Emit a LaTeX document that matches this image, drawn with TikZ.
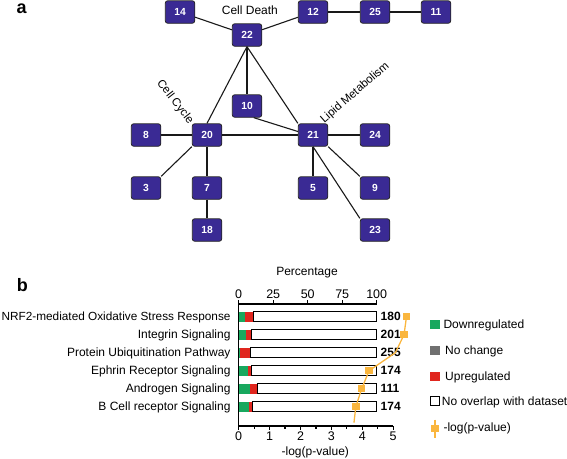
\documentclass[tikz,border=0pt]{standalone}
\usepackage{fontspec}
\setmainfont{Liberation Sans}
\definecolor{nodeblue}{RGB}{58,42,148}
\definecolor{dgreen}{RGB}{24,168,94}
\definecolor{dred}{RGB}{224,38,30}
\definecolor{dgray}{RGB}{112,112,112}
\definecolor{orng}{RGB}{250,182,62}
\begin{document}
\begin{tikzpicture}[x=1pt,y=-1pt,
  nd/.style={draw=black!85, line width=0.8pt, fill=nodeblue, rounded corners=2.5pt,
    minimum width=29.5pt, minimum height=22.5pt, inner sep=0pt, text=white,
    font=\fontsize{10.3}{11}\selectfont\bfseries},
  ln/.style={line width=1.1pt, black!90},
  txt/.style={inner sep=0pt, font=\fontsize{12}{14}\selectfont},
  rtxt/.style={inner sep=0pt, font=\fontsize{11.5}{13}\selectfont},
  vtxt/.style={inner sep=0pt, font=\fontsize{12}{14}\selectfont\bfseries},
  panel/.style={inner sep=0pt, font=\fontsize{18}{20}\selectfont\bfseries},
  axis/.style={line width=1.2pt, black},
  olin/.style={line width=1.3pt, orng},
  omark/.style={fill=orng, draw=none, minimum size=7.5pt, inner sep=0pt}
]
\useasboundingbox (0,0) rectangle (567,458);

% ---------------- panel a ----------------
\node[panel, anchor=base west] (pa) at (16.3,13.3) {a};
\node[nd] (n14) at (180,12) {14};
\node[nd] (n22) at (247,35) {22};
\node[nd] (n12) at (313,12) {12};
\node[nd] (n25) at (375,12) {25};
\node[nd] (n11) at (436,12) {11};
\node[nd] (n10) at (247,106) {10};
\node[nd] (n8)  at (146,135) {8};
\node[nd] (n20) at (207,135) {20};
\node[nd] (n21) at (313,135) {21};
\node[nd] (n24) at (375,135) {24};
\node[nd] (n3)  at (146,188) {3};
\node[nd] (n7)  at (207,188) {7};
\node[nd] (n5)  at (313,188) {5};
\node[nd] (n9)  at (375,188) {9};
\node[nd] (n18) at (207,230) {18};
\node[nd] (n23) at (375,230) {23};

\draw[ln] (n14) -- (n22);
\draw[ln] (n22) -- (n12);
\draw[ln] (n12) -- (n25);
\draw[ln] (n25) -- (n11);
\draw[ln] (n22.south) -- (n20.north);
\draw[ln] (n22.south) -- (n10.north);
\draw[ln] (n22.south) -- (n21.north west);
\draw[ln] (n10.-60) -- (n21.167);
\draw[ln] (n8) -- (n20);
\draw[ln] (n20) -- (n21);
\draw[ln] (n21) -- (n24);
\draw[ln] (n20.south west) -- (n3.north east);
\draw[ln] (n20) -- (n7);
\draw[ln] (n7) -- (n18);
\draw[ln] (n21.south) -- (n5.north);
\draw[ln] (n21.south east) -- (n9.north west);
\draw[ln] (n21.south) -- (n23.north west);

\node[txt, anchor=base west] (lcd) at (221.7,14) {Cell Death};
\node[rtxt, rotate=-52] (lcc) at (175,102) {Cell Cycle};
\node[rtxt, rotate=41] (llm) at (355,93) {Lipid Metabolism};

% ---------------- panel b ----------------
\node[panel, anchor=base west] (pb) at (16.7,291.7) {b};
\node[txt, anchor=base] (tperc) at (307,275) {Percentage};

% top axis
\draw[axis] (238.7,304) -- (376.7,304);
\foreach \t/\k in {0/0,25/1,50/2,75/3,100/4} {
  \draw[axis] ({238.7+1.38*\t},304) -- ({238.7+1.38*\t},299.5);
  \node[txt, anchor=base, font=\fontsize{12.5}{14}\selectfont] (tt\k) at ({238.7+1.38*\t},298.7) {\t};
}
% left axis
\draw[axis] (238.7,304) -- (238.7,426);
% bottom axis
\draw[axis] (238.7,426) -- (393.2,426);
\foreach \u in {0,1,2,3,4,5} {
  \draw[axis] ({238.7+30.9*\u},426) -- ({238.7+30.9*\u},430);
  \node[txt, anchor=base, font=\fontsize{12.5}{14}\selectfont] (bt\u) at ({238.7+30.9*\u},440) {\u};
}
\foreach \u in {0.5,1.5,2.5,3.5,4.5} {
  \draw[axis] ({238.7+30.9*\u},426) -- ({238.7+30.9*\u},429);
}
\node[txt, anchor=base] (txlab) at (315.3,455.5) {-log(p-value)};

% bars
\foreach \i/\lab/\g/\r/\v/\fs in {
  1/NRF2-mediated Oxidative Stress Response/4.7/10.7/180/11.8,
  2/Integrin Signaling/5.6/9.1/201/12,
  3/Protein Ubiquitination Pathway/0.8/8.8/255/12,
  4/Ephrin Receptor Signaling/6.5/9.1/174/12,
  5/Androgen Signaling/8.4/13.7/111/12,
  6/B Cell receptor Signaling/7.7/10.3/174/12} {
  \pgfmathsetmacro{\yc}{316.7+(\i-1)*18}
  \node[inner sep=0pt, font=\fontsize{\fs}{14}\selectfont, anchor=base east] (lab\i) at (230.7,\yc+4.2) {\lab};
  \fill[dgreen] (238.7,\yc-5) rectangle ({238.7+1.38*\g},\yc+5);
  \fill[dred] ({238.7+1.38*\g},\yc-5) rectangle ({238.7+1.38*\r},\yc+5);
  \draw[line width=0.9pt, fill=white] ({238.7+1.38*\r},\yc-5) rectangle (376.7,\yc+5);
  \node[vtxt, anchor=base west] (val\i) at (380.5,\yc+4.2) {\v};
}

% -log(p) line
\coordinate (p1) at ({238.7+30.9*5.43},316.7);
\coordinate (p2) at ({238.7+30.9*5.35},334.7);
\coordinate (p3) at ({238.7+30.9*5.07},352.7);
\coordinate (p4) at ({238.7+30.9*4.22},370.7);
\coordinate (p5) at ({238.7+30.9*3.98},388.7);
\coordinate (p6) at ({238.7+30.9*3.79},406.7);
\coordinate (pend) at ({238.7+30.9*3.73},422.7);
\draw[olin] (p1) -- (p2) -- (p3) -- (p4) -- (p5) -- (p6) -- (pend);
\foreach \k in {1,2,4,5,6} { \node[omark] (m\k) at (p\k) {}; }

% legend
\node[fill=dgreen, minimum width=10pt, minimum height=9.5pt, inner sep=0pt] (lg1) at (435,324.6) {};
\node[txt, anchor=base west] (lt1) at (443.3,328.6) {Downregulated};
\node[fill=dgray, minimum width=10pt, minimum height=9.5pt, inner sep=0pt] (lg2) at (435,350.5) {};
\node[txt, anchor=base west] (lt2) at (445,354.5) {No change};
\node[fill=dred, minimum width=10pt, minimum height=9.5pt, inner sep=0pt] (lg3) at (435,376.3) {};
\node[txt, anchor=base west] (lt3) at (445,380.3) {Upregulated};
\node[draw=black, line width=0.8pt, fill=white, minimum width=9.5pt, minimum height=9pt, inner sep=0pt] (lg4) at (435,401.3) {};
\node[txt, anchor=base west] (lt4) at (441.7,405.3) {No overlap with dataset};
\coordinate (lo1) at (435,419.5);
\coordinate (lo2) at (435,438);
\draw[olin] (lo1) -- (lo2);
\node[omark] (lg5) at (435,428.3) {};
\node[txt, anchor=base west] (lt5) at (443.3,431.5) {-log(p-value)};
\end{tikzpicture}
\end{document}
